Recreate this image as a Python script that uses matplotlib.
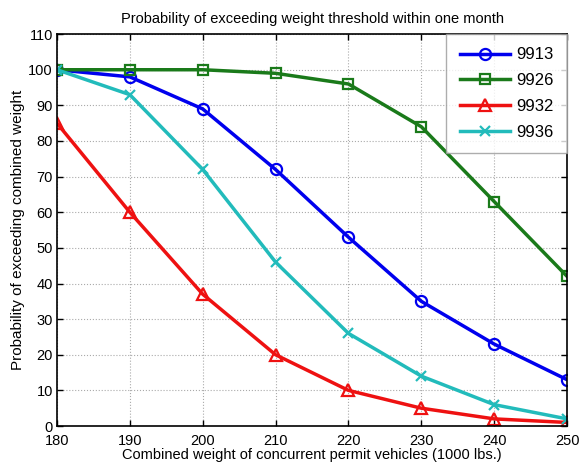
import matplotlib
matplotlib.use("Agg")
import matplotlib.pyplot as plt

plt.rcParams['font.family'] = ['Liberation Sans', 'DejaVu Sans']

weights = [180, 190, 200, 210, 220, 230, 240, 250]
labels = ["9913", "9926", "9932", "9936"]
s9913 = [100, 98, 89, 72, 53, 35, 23, 13]
s9926 = [100, 100, 100, 99, 96, 84, 63, 42]
s9932 = [85, 60, 37, 20, 10, 5, 2, 1]
s9936 = [100, 93, 72, 46, 26, 14, 6, 2]
yticks = list(range(0, 111, 10))

fig = plt.figure(figsize=(5.79, 4.66), dpi=100)
ax = fig.add_axes([0.0984, 0.0858, 0.881, 0.841])

ax.plot(weights, s9913, color='#0000ee', lw=2.5, marker='o', ms=8, mfc='none', mew=1.6, label=labels[0])
ax.plot(weights, s9926, color='#1a7a1a', lw=2.5, marker='s', ms=7, mfc='none', mew=1.6, label=labels[1])
ax.plot(weights, s9932, color='#ee1111', lw=2.5, marker='^', ms=9, mfc='none', mew=1.6, label=labels[2])
ax.plot(weights, s9936, color='#22bbbb', lw=2.5, marker='x', ms=7, mew=1.6, label=labels[3])

ax.set_xlim(180, 250)
ax.set_ylim(0, 110)
ax.set_xticks(weights)
ax.set_yticks(yticks)
ax.tick_params(axis='both', direction='in', length=4, width=1, labelsize=10.5, top=True, right=True)
ax.tick_params(axis='x', pad=6)
ax.tick_params(axis='y', pad=3)
ax.grid(True, linestyle=':', color='#aaaaaa', lw=0.8)
for sp in ax.spines.values():
    sp.set_linewidth(1.2)

ax.set_title("Probability of exceeding weight threshold within one month", fontsize=10.5, pad=8)
ax.set_xlabel("Combined weight of concurrent permit vehicles (1000 lbs.)", fontsize=10.5, labelpad=0)
ax.set_ylabel("Probability of exceeding combined weight", fontsize=11, labelpad=2)

leg = ax.legend(loc='upper right', fontsize=12, frameon=True, fancybox=False,
                edgecolor='#999999', borderaxespad=0, handlelength=3.0, labelspacing=0.65,
                borderpad=0.8, handletextpad=0.4)
leg.get_frame().set_linewidth(1.0)

fig.savefig("out.png", dpi=100)
